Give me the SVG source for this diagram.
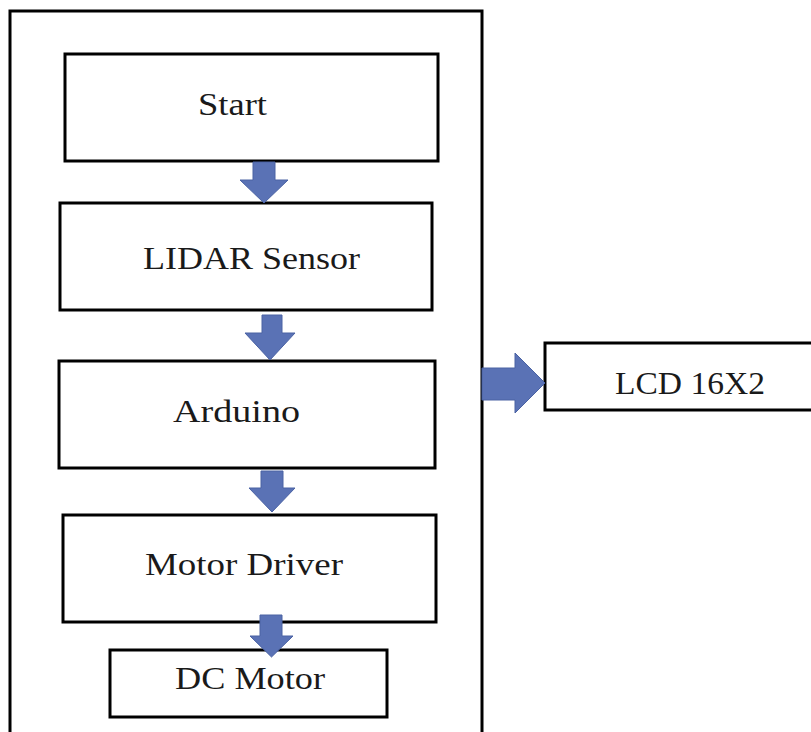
<svg xmlns="http://www.w3.org/2000/svg" width="811" height="732" viewBox="0 0 811 732">
<style>
.box{fill:#fff;stroke:#000;stroke-width:3}
.lbl{font-family:"Liberation Serif","Times New Roman",serif;font-size:32px;fill:#1a1a1a;text-anchor:middle}
.arr{fill:#5a72b5;stroke:#4a62a3;stroke-width:1}
</style>
<rect width="811" height="732" fill="#fff"/>
<g id="frame"><rect x="10" y="11" width="472" height="740" fill="none" stroke="#000" stroke-width="3"/></g>
<g id="start"><rect class="box" x="65" y="54" width="373" height="107"/><text class="lbl" x="232.5" y="115" textLength="69" lengthAdjust="spacingAndGlyphs">Start</text></g>
<g id="lidar"><rect class="box" x="60" y="203" width="372" height="107"/><text class="lbl" x="251.5" y="269" textLength="217" lengthAdjust="spacingAndGlyphs">LIDAR Sensor</text></g>
<g id="arduino"><rect class="box" x="59" y="361" width="376" height="107"/><text class="lbl" x="236.5" y="422" textLength="127" lengthAdjust="spacingAndGlyphs">Arduino</text></g>
<g id="motordriver"><rect class="box" x="63" y="515" width="373" height="107"/><text class="lbl" x="244" y="575" textLength="198" lengthAdjust="spacingAndGlyphs">Motor Driver</text></g>
<g id="dcmotor"><rect class="box" x="110" y="650" width="277" height="67"/><text class="lbl" x="250" y="689" textLength="150" lengthAdjust="spacingAndGlyphs">DC Motor</text></g>
<g id="lcd"><rect class="box" x="545" y="343" width="280" height="67"/><text class="lbl" x="690" y="394" textLength="150" lengthAdjust="spacingAndGlyphs">LCD 16X2</text></g>
<g id="connectors">
<polygon class="arr" points="253,162 275,162 275,180 288,180 264,203 240,180 253,180"/>
<polygon class="arr" points="262,315 282,315 282,333 295,333 270,360 245,333 262,333"/>
<polygon class="arr" points="261,471 283,471 283,488 295,488 272,512 249,488 261,488"/>
<polygon class="arr" points="260,615 282,615 282,636 293,636 271.5,657 250,636 260,636"/>
<polygon class="arr" points="482,368 515,368 515,353 545,383 515,413 515,400 482,400"/>
</g>
</svg>
